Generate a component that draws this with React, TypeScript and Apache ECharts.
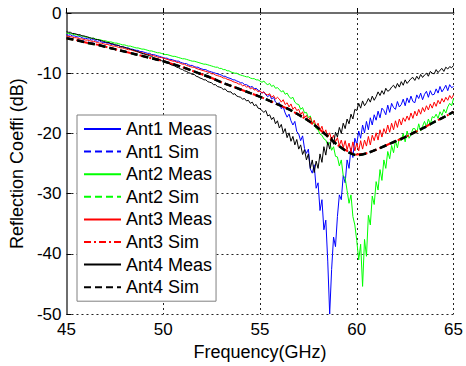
import React, { useEffect, useRef } from "react";
import * as echarts from "echarts";

const FONT = "'Liberation Sans', Arial, sans-serif";

const seriesNames = [
  "Ant1 Meas", "Ant1 Sim", "Ant2 Meas", "Ant2 Sim",
  "Ant3 Meas", "Ant3 Sim", "Ant4 Meas", "Ant4 Sim",
];

// measurement sampling grid: 45.0 .. 65.0 GHz, 0.1 GHz step
const measFreq = Array.from({ length: 201 }, (_, i) => +(45 + i * 0.1).toFixed(1));
// simulation sampling grid: 45.0 .. 65.0 GHz, 0.5 GHz step
const simFreq = Array.from({ length: 41 }, (_, i) => +(45 + i * 0.5).toFixed(1));

const ant1Meas = [
  -3.6, -3.7, -3.6, -3.8, -3.8, -3.9, -4.0, -3.9, -4.1, -4.2,
  -4.2, -4.3, -4.3, -4.5, -4.4, -4.6, -4.7, -4.6, -4.8, -4.9,
  -4.9, -5.0, -5.0, -5.2, -5.2, -5.3, -5.4, -5.4, -5.6, -5.6,
  -5.7, -5.8, -5.8, -6.0, -6.0, -6.1, -6.2, -6.2, -6.4, -6.4,
  -6.5, -6.6, -6.7, -6.7, -6.9, -6.9, -7.0, -7.1, -7.2, -7.3,
  -7.4, -7.5, -7.5, -7.7, -7.7, -7.8, -7.9, -8.0, -8.0, -8.2,
  -8.3, -8.4, -8.4, -8.6, -8.7, -8.7, -8.9, -9.0, -9.0, -9.2,
  -9.3, -9.4, -9.4, -9.6, -9.7, -9.8, -9.9, -10.0, -10.1, -10.2,
  -10.3, -10.5, -10.5, -10.7, -10.8, -10.9, -11.1, -11.1, -11.3, -11.4,
  -11.6, -11.6, -11.9, -11.9, -12.1, -12.3, -12.2, -12.6, -12.5, -12.8,
  -13.0, -13.3, -13.1, -13.6, -13.9, -13.6, -14.3, -14.0, -14.8, -15.1,
  -14.9, -15.9, -15.6, -16.6, -17.3, -16.8, -17.9, -18.6, -18.0, -19.7,
  -20.1, -21.2, -20.4, -22.5, -23.3, -22.6, -25.9, -26.6, -25.2, -29.1,
  -28.2, -32.8, -31.0, -36.0, -34.4, -41.2, -50.0, -42.6, -37.2, -38.8,
  -33.8, -30.2, -31.0, -27.0, -28.2, -24.4, -25.8, -22.4, -24.0, -20.8,
  -21.8, -19.6, -20.8, -18.6, -19.9, -18.0, -19.4, -17.4, -18.6, -16.9,
  -17.8, -16.3, -17.4, -15.8, -16.2, -16.9, -15.3, -16.5, -15.0, -15.7,
  -16.0, -14.7, -15.6, -15.2, -14.3, -15.4, -14.1, -14.9, -13.8, -14.7,
  -14.9, -13.6, -14.2, -13.3, -14.4, -13.5, -13.0, -14.0, -12.9, -13.6,
  -13.5, -12.6, -13.3, -12.2, -13.1, -12.6, -12.0, -12.9, -11.9, -12.4,
  -12.2,
];

const ant2Meas = [
  -3.3, -3.4, -3.4, -3.5, -3.6, -3.6, -3.7, -3.8, -3.8, -3.9,
  -4.0, -4.0, -4.1, -4.2, -4.2, -4.3, -4.4, -4.4, -4.5, -4.6,
  -4.6, -4.7, -4.8, -4.8, -4.9, -5.0, -5.0, -5.1, -5.2, -5.3,
  -5.3, -5.4, -5.5, -5.5, -5.6, -5.7, -5.8, -5.8, -5.9, -6.0,
  -6.0, -6.1, -6.2, -6.3, -6.3, -6.4, -6.5, -6.6, -6.6, -6.7,
  -6.8, -6.9, -6.9, -7.0, -7.1, -7.2, -7.2, -7.3, -7.4, -7.5,
  -7.6, -7.6, -7.7, -7.8, -7.9, -8.0, -8.0, -8.1, -8.2, -8.3,
  -8.4, -8.5, -8.5, -8.6, -8.7, -8.8, -8.9, -9.0, -9.0, -9.2,
  -9.2, -9.4, -9.4, -9.6, -9.6, -9.8, -9.9, -10.0, -10.0, -10.2,
  -10.3, -10.4, -10.5, -10.6, -10.6, -10.8, -10.9, -10.9, -11.1, -11.1,
  -11.3, -11.5, -11.3, -11.7, -11.9, -11.7, -12.2, -12.0, -12.5, -12.4,
  -12.7, -13.1, -12.9, -13.5, -13.3, -13.9, -14.2, -14.0, -14.8, -15.1,
  -15.2, -16.0, -15.7, -16.6, -16.5, -17.4, -17.1, -18.2, -18.3, -19.2,
  -19.4, -20.1, -20.3, -20.9, -21.1, -21.9, -21.5, -22.8, -22.2, -23.8,
  -23.9, -25.4, -24.4, -27.0, -27.4, -29.5, -31.6, -30.2, -33.8, -35.2,
  -37.8, -41.0, -38.4, -45.4, -37.6, -40.4, -33.6, -35.2, -30.4, -31.8,
  -28.0, -29.4, -26.0, -27.8, -24.4, -25.8, -23.0, -24.2, -22.0, -23.2,
  -21.2, -22.4, -20.8, -21.2, -20.0, -21.4, -19.6, -20.8, -20.2, -19.2,
  -19.2, -19.9, -18.4, -19.6, -18.8, -18.0, -18.9, -17.6, -18.5, -17.2,
  -17.4, -16.8, -17.5, -16.4, -17.0, -16.0, -16.6, -15.6, -15.0, -15.4,
  -14.2,
];

const ant3Meas = [
  -3.8, -3.9, -3.9, -4.0, -4.1, -4.1, -4.2, -4.3, -4.3, -4.4,
  -4.5, -4.5, -4.6, -4.7, -4.7, -4.8, -4.9, -5.0, -5.0, -5.1,
  -5.2, -5.2, -5.3, -5.4, -5.5, -5.5, -5.6, -5.7, -5.8, -5.8,
  -5.9, -6.0, -6.1, -6.1, -6.2, -6.3, -6.4, -6.5, -6.5, -6.6,
  -6.7, -6.8, -6.9, -6.9, -7.0, -7.1, -7.2, -7.3, -7.4, -7.4,
  -7.5, -7.6, -7.7, -7.8, -7.9, -8.0, -8.0, -8.2, -8.2, -8.4,
  -8.5, -8.5, -8.7, -8.8, -8.9, -9.0, -9.0, -9.2, -9.3, -9.4,
  -9.5, -9.6, -9.7, -9.8, -9.9, -10.1, -10.1, -10.3, -10.4, -10.5,
  -10.6, -10.8, -10.8, -11.0, -11.1, -11.2, -11.4, -11.5, -11.6, -11.8,
  -11.8, -12.1, -12.0, -12.3, -12.2, -12.6, -12.4, -12.8, -12.7, -13.1,
  -12.9, -13.3, -13.1, -13.5, -13.6, -13.4, -14.0, -13.7, -14.3, -14.0,
  -14.3, -14.8, -14.4, -15.2, -14.9, -15.6, -15.1, -16.0, -15.6, -16.2,
  -16.0, -16.9, -16.4, -17.4, -17.0, -17.9, -17.3, -18.5, -17.8, -18.9,
  -18.3, -19.5, -18.8, -20.1, -19.4, -20.6, -19.9, -21.1, -20.3, -21.4,
  -20.7, -22.0, -21.1, -22.4, -21.2, -22.7, -21.6, -23.1, -21.4, -22.9,
  -21.6, -22.9, -21.2, -22.6, -21.1, -22.1, -20.5, -21.9, -20.3, -21.2,
  -19.9, -21.1, -19.4, -20.6, -19.2, -20.0, -18.6, -19.8, -18.3, -19.4,
  -17.9, -19.0, -17.6, -18.6, -17.4, -18.0, -17.1, -17.8, -16.6, -17.5,
  -16.3, -17.1, -16.0, -16.8, -15.7, -16.4, -15.4, -16.1, -15.1, -15.8,
  -14.8, -15.5, -14.5, -15.1, -14.2, -14.8, -14.0, -14.5, -13.7, -14.2,
  -13.6,
];

const ant4Meas = [
  -3.1, -3.2, -3.2, -3.4, -3.4, -3.5, -3.6, -3.6, -3.8, -3.8,
  -3.9, -4.0, -4.1, -4.2, -4.2, -4.4, -4.4, -4.5, -4.6, -4.7,
  -4.8, -4.9, -4.9, -5.1, -5.1, -5.3, -5.3, -5.4, -5.6, -5.6,
  -5.7, -5.8, -5.9, -6.0, -6.1, -6.2, -6.3, -6.4, -6.6, -6.7,
  -6.8, -6.9, -7.0, -7.1, -7.2, -7.4, -7.5, -7.6, -7.7, -7.9,
  -8.0, -8.1, -8.3, -8.4, -8.6, -8.7, -8.8, -9.0, -9.1, -9.3,
  -9.4, -9.6, -9.7, -9.9, -10.0, -10.2, -10.2, -10.5, -10.6, -10.8,
  -10.9, -11.1, -11.1, -11.4, -11.5, -11.6, -11.9, -11.9, -12.2, -12.3,
  -12.4, -12.7, -12.6, -13.0, -13.1, -13.1, -13.5, -13.4, -13.8, -13.9,
  -14.0, -14.3, -14.2, -14.6, -14.5, -15.0, -14.8, -15.4, -15.2, -15.8,
  -15.9, -16.2, -16.5, -16.2, -17.1, -16.9, -17.7, -17.3, -18.4, -17.9,
  -19.1, -18.5, -19.9, -19.2, -20.7, -19.9, -21.3, -20.5, -21.9, -21.0,
  -22.6, -21.9, -23.5, -22.7, -24.4, -23.4, -25.8, -24.4, -26.5, -24.6,
  -25.8, -23.4, -24.8, -22.2, -23.6, -21.4, -22.6, -20.6, -21.8, -19.8,
  -20.6, -19.0, -20.0, -18.3, -19.2, -17.6, -18.4, -16.8, -17.6, -16.0,
  -16.2, -15.0, -15.8, -14.6, -15.4, -14.9, -14.2, -14.8, -13.8, -14.5,
  -13.9, -13.1, -13.7, -12.9, -13.5, -12.5, -13.0, -12.8, -12.3, -12.0,
  -12.5, -11.7, -12.3, -11.4, -12.0, -11.1, -11.7, -11.3, -10.9, -10.7,
  -11.2, -10.5, -11.0, -10.2, -10.7, -10.3, -10.0, -10.5, -9.7, -10.0,
  -10.1, -9.4, -9.9, -9.5, -9.2, -9.7, -9.0, -9.3, -8.9, -9.1,
  -8.7,
];

const ant1Sim = [
  -4.1, -4.5, -4.8, -5.2, -5.6, -6.0, -6.4, -6.8, -7.2, -7.6,
  -8.0, -8.5, -9.0, -9.6, -10.2, -10.8, -11.5, -12.1, -12.7, -13.3,
  -13.9, -14.6, -15.3, -16.0, -16.9, -17.9, -19.1, -20.5, -21.9, -23.0,
  -23.6, -23.3, -22.7, -22.0, -21.3, -20.6, -19.8, -19.0, -18.1, -17.3,
  -16.4,
];
const ant2Sim = [
  -4.2, -4.5, -4.9, -5.2, -5.6, -6.0, -6.4, -6.8, -7.2, -7.6,
  -8.0, -8.5, -9.0, -9.6, -10.2, -10.8, -11.5, -12.1, -12.7, -13.3,
  -13.9, -14.6, -15.3, -16.0, -16.9, -17.9, -19.1, -20.5, -21.9, -23.0,
  -23.6, -23.3, -22.7, -22.0, -21.3, -20.6, -19.8, -19.0, -18.1, -17.3,
  -16.4,
];
const ant3Sim = [
  -4.2, -4.5, -4.9, -5.2, -5.6, -6.0, -6.4, -6.8, -7.2, -7.6,
  -8.0, -8.5, -9.0, -9.6, -10.2, -10.8, -11.5, -12.1, -12.7, -13.3,
  -13.9, -14.6, -15.3, -16.0, -16.9, -17.9, -19.1, -20.5, -21.9, -22.9,
  -23.5, -23.3, -22.7, -22.0, -21.3, -20.6, -19.8, -19.0, -18.1, -17.3,
  -16.4,
];
const ant4Sim = [
  -4.2, -4.5, -4.9, -5.2, -5.6, -6.0, -6.4, -6.8, -7.2, -7.6,
  -8.0, -8.5, -9.0, -9.6, -10.2, -10.8, -11.5, -12.1, -12.7, -13.3,
  -13.9, -14.6, -15.3, -16.0, -16.9, -17.9, -19.1, -20.5, -21.9, -23.0,
  -23.6, -23.3, -22.7, -22.0, -21.3, -20.6, -19.8, -19.0, -18.1, -17.3,
  -16.4,
];

const xTicks = { min: 45, max: 65, interval: 5 };
const yTicks = { min: -50, max: 0, interval: 10 };

function pairs(xs: number[], ys: number[]) {
  return xs.map((x, i) => [x, ys[i]]);
}

export default function App() {
  const ref = useRef<HTMLDivElement>(null);
  useEffect(() => {
    document.body.style.margin = "0";
    if (!ref.current) return;
    const chart = echarts.init(ref.current, undefined, { renderer: "svg" });
    const meas = (name: string, color: string, ys: number[]) => ({
      name,
      type: "line",
      data: pairs(measFreq, ys),
      showSymbol: false,
      symbol: "none",
      lineStyle: { color, width: 1 },
      itemStyle: { color },
      emphasis: { disabled: true },
    });
    const sim = (name: string, color: string, ys: number[], dash: number[], width: number) => ({
      name,
      type: "line",
      data: pairs(simFreq, ys),
      showSymbol: false,
      symbol: "none",
      smooth: 0.3,
      lineStyle: { color, width, type: dash },
      itemStyle: { color },
      emphasis: { disabled: true },
    });
    const axisCommon = {
      axisLine: { show: true, lineStyle: { color: "#6e6e6e", width: 2 } },
      axisTick: { show: true, inside: true, length: 5, lineStyle: { color: "#000", width: 1 } },
      splitLine: { show: true, lineStyle: { color: "#222", width: 1, type: [2, 3] } },
      nameLocation: "middle",
      nameTextStyle: { color: "#000", fontSize: 18, fontFamily: FONT },
    };
    chart.setOption({
      animation: false,
      backgroundColor: "#fff",
      grid: { left: 62, top: 13, right: 9, bottom: 45, containLabel: false },
      xAxis: {
        type: "value",
        ...xTicks,
        ...axisCommon,
        axisLabel: { color: "#000", fontSize: 17, fontFamily: FONT, margin: 7 },
        name: "Frequency(GHz)",
        nameGap: 23,
      },
      yAxis: {
        type: "value",
        ...yTicks,
        ...axisCommon,
        axisLabel: { color: "#000", fontSize: 17, fontFamily: FONT, margin: 5 },
        name: "Reflection Coeffi (dB)",
        nameGap: 36,
      },
      legend: {
        orient: "vertical",
        left: 77,
        top: 115,
        padding: [5, 4, 5, 6],
        itemWidth: 37,
        itemHeight: 18,
        itemGap: 4.6,
        backgroundColor: "#fff",
        borderColor: "#808080",
        borderWidth: 1,
        borderRadius: 0,
        itemStyle: { opacity: 0 },
        textStyle: { color: "#000", fontSize: 18, fontFamily: FONT, lineHeight: 18 },
        data: seriesNames,
      },
      series: [
        meas(seriesNames[0], "#0000ff", ant1Meas),
        sim(seriesNames[1], "#0000ff", ant1Sim, [7, 4], 2),
        meas(seriesNames[2], "#00ff00", ant2Meas),
        sim(seriesNames[3], "#00ff00", ant2Sim, [7, 4], 2),
        meas(seriesNames[4], "#ff0000", ant3Meas),
        sim(seriesNames[5], "#ff0000", ant3Sim, [7, 3, 2, 3], 2),
        meas(seriesNames[6], "#000000", ant4Meas),
        sim(seriesNames[7], "#000000", ant4Sim, [7, 4], 2.5),
      ],
    });
    return () => chart.dispose();
  }, []);
  return <div ref={ref} style={{ width: 466, height: 366 }} />;
}
